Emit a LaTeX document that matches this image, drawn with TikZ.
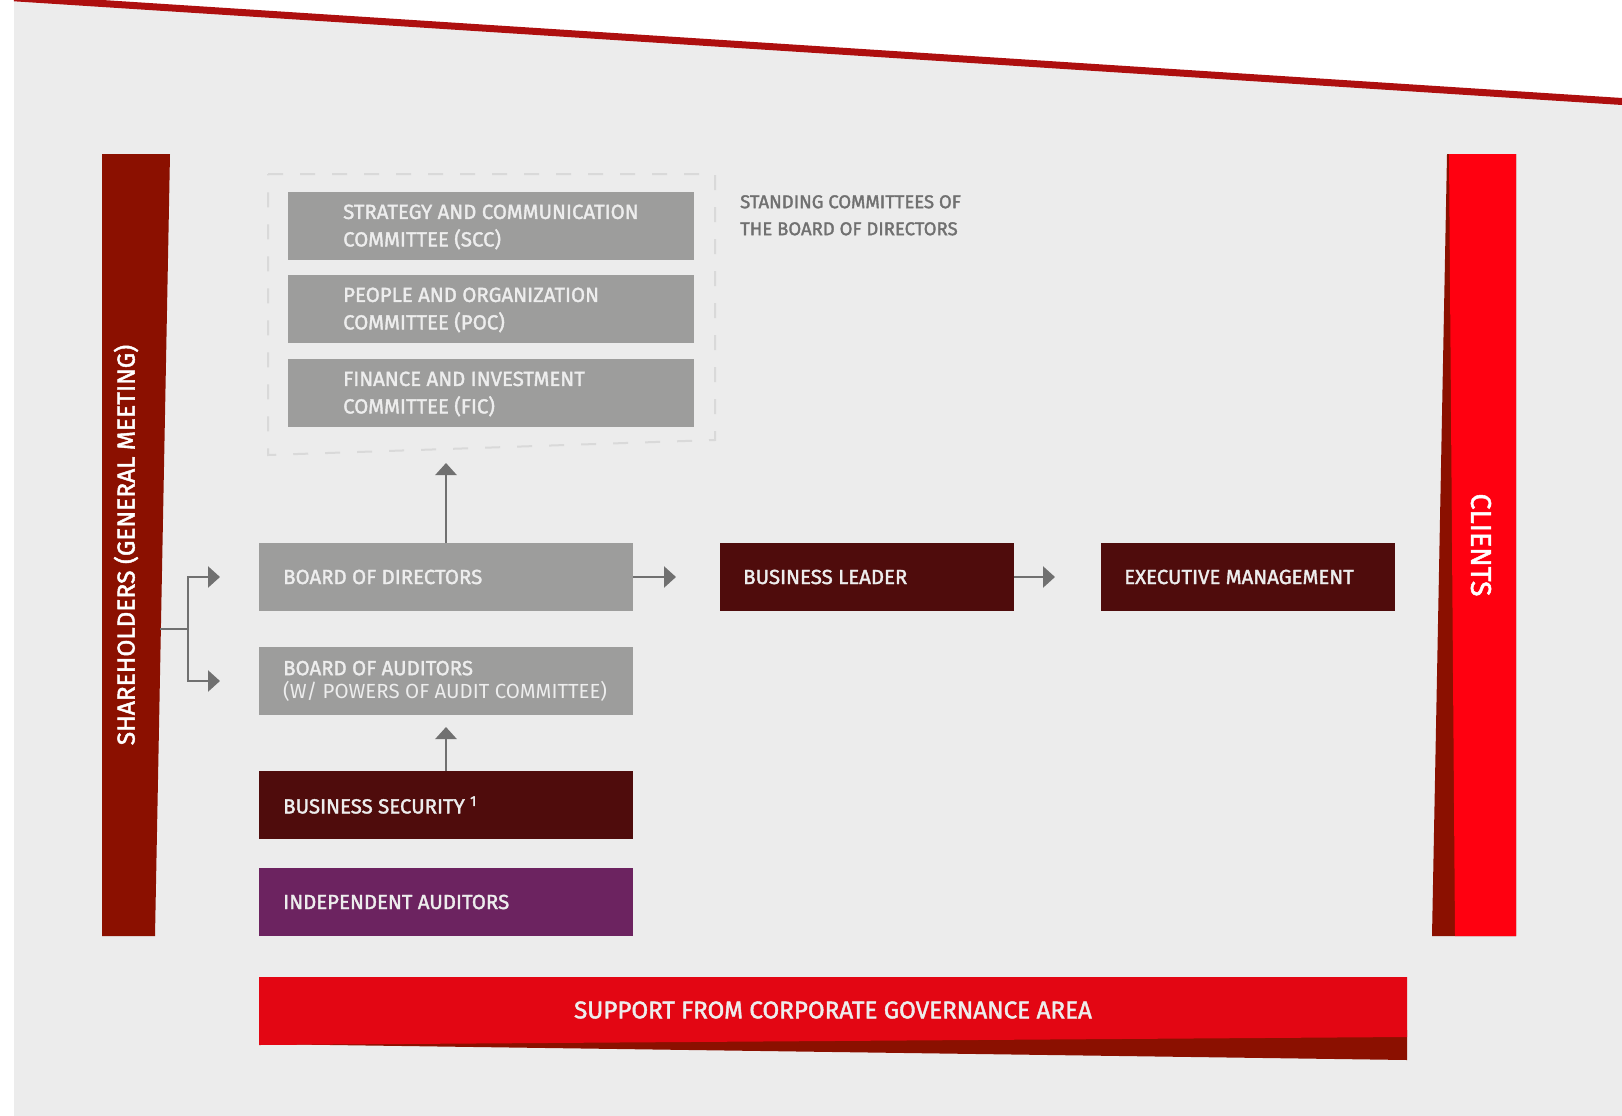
\documentclass[tikz,border=0pt]{standalone}
\usepackage{fontspec}
\setmainfont{Fira Sans}
\newfontfamily\medf[FakeBold=1.8]{Fira Sans}
\usetikzlibrary{arrows.meta}
\definecolor{bgg}{HTML}{ECECEC}
\definecolor{boxg}{HTML}{9D9D9C}
\definecolor{txtl}{HTML}{EDEDED}
\definecolor{darkb}{HTML}{4F0C0C}
\definecolor{purp}{HTML}{6C2360}
\definecolor{shbar}{HTML}{8B1000}
\definecolor{clred}{HTML}{FF0010}
\definecolor{supred}{HTML}{E30613}
\definecolor{topred}{HTML}{AE0F0F}
\definecolor{arrg}{HTML}{707070}
\definecolor{dashg}{HTML}{D9D9D9}
\begin{document}
\begin{tikzpicture}[x=1pt,y=-1pt,
  box/.style={anchor=north west, minimum height=68pt, inner sep=0pt, outer sep=0pt},
  lbl/.style={anchor=west, inner sep=0pt, align=left, text=txtl, font=\medf\fontsize{20.4}{27.5}\selectfont},
  conn/.style={draw=arrg, line width=2.5pt, -{Triangle[length=12pt,width=21pt]}},
]
\useasboundingbox (0,0) rectangle (1622,1116);
\fill[white] (0,0) rectangle (1622,1116);
\fill[bgg] (14,-2.2) -- (1622,101.5) -- (1622,1116) -- (14,1116) -- cycle;
\draw[topred, line width=7pt] (14,-2.2) -- (1622,101.5);

% shareholders bar
\fill[shbar] (102,154) -- (170,154) -- (155,936) -- (102,936) -- cycle;
\node[rotate=90, text=white, inner sep=0pt, font=\medf\fontsize{24.5}{24}\selectfont] (shT) at (126,545) {SHAREHOLDERS (GENERAL MEETING)};

% clients bar
\fill[shbar] (1447,154) -- (1516,154) -- (1516,936) -- (1432,936) -- cycle;
\fill[clred] (1449,154) -- (1516,154) -- (1516,936) -- (1455,936) -- cycle;
\node[rotate=-90, text=white, inner sep=0pt, font=\medf\fontsize{28.5}{28}\selectfont] (clT) at (1481,545) {CLIENTS};

% support bar
\fill[shbar] (259,1044) -- (1407,1030) -- (1407,1060) -- cycle;
\fill[supred] (259,977) -- (1407,977) -- (1407,1037) -- (259,1045) -- cycle;
\node[text=txtl, inner sep=0pt, font=\medf\fontsize{24.2}{24}\selectfont] (supT) at (833,1010) {SUPPORT FROM CORPORATE GOVERNANCE AREA};

% dashed frame of committees
\draw[dashg, line width=2pt, dash pattern=on 15pt off 17pt] (268,174) -- (715,174) -- (715,440) -- (268,455) -- cycle;

% committee boxes
\node[box, fill=boxg, minimum width=406pt] (scc) at (288,192) {};
\node[lbl] (sccT) at ([xshift=55pt, yshift=-1pt]scc.west) {STRATEGY AND COMMUNICATION\\COMMITTEE (SCC)};
\node[box, fill=boxg, minimum width=406pt] (poc) at (288,275) {};
\node[lbl] (pocT) at ([xshift=55pt, yshift=-1pt]poc.west) {PEOPLE AND ORGANIZATION\\COMMITTEE (POC)};
\node[box, fill=boxg, minimum width=406pt] (fic) at (288,359) {};
\node[lbl] (ficT) at ([xshift=55pt, yshift=-1pt]fic.west) {FINANCE AND INVESTMENT\\COMMITTEE (FIC)};

\node[anchor=north west, inner sep=0pt, align=left, text=arrg, font=\medf\fontsize{18.5}{27}\selectfont] (stT) at (740,195) {STANDING COMMITTEES OF\\THE BOARD OF DIRECTORS};

% main boxes
\node[box, fill=boxg, minimum width=374pt] (bod) at (259,543) {};
\node[lbl] (bodT) at ([xshift=24pt]bod.west) {BOARD OF DIRECTORS};
\node[box, fill=boxg, minimum width=374pt] (boa) at (259,647) {};
\node[lbl, font=\fontsize{20.4}{23}\selectfont] (boaT) at ([xshift=24pt]boa.west) {{\medf BOARD OF AUDITORS}\\(W/ POWERS OF AUDIT COMMITTEE)};
\node[box, fill=darkb, minimum width=374pt] (bs) at (259,771) {};
\node[lbl] (bsT) at ([xshift=24pt]bs.west) {BUSINESS SECURITY \textsuperscript{1}};
\node[box, fill=purp, minimum width=374pt] (ia) at (259,868) {};
\node[lbl] (iaT) at ([xshift=24pt]ia.west) {INDEPENDENT AUDITORS};
\node[box, fill=darkb, minimum width=294pt] (bl) at (720,543) {};
\node[lbl] (blT) at ([xshift=23pt]bl.west) {BUSINESS LEADER};
\node[box, fill=darkb, minimum width=294pt] (em) at (1101,543) {};
\node[lbl] (emT) at ([xshift=23pt]em.west) {EXECUTIVE MANAGEMENT};

% connectors
\coordinate (shR) at (160,629);
\coordinate (fork) at (188,629);
\coordinate (bodIn) at (220,577);
\coordinate (boaIn) at (220,681);
\coordinate (cmtIn) at (446,463);
\coordinate (blIn) at (676,577);
\coordinate (emIn) at (1055,577);
\coordinate (boaUp) at (446,727);
\draw[conn] (shR) -- (fork) |- (bodIn);
\draw[conn] (fork) |- (boaIn);
\draw[conn] (bod.north) -- (cmtIn);
\draw[conn] (bod.east) -- (blIn);
\draw[conn] (bl.east) -- (emIn);
\draw[conn] (bs.north) -- (boaUp);
\end{tikzpicture}
\end{document}
